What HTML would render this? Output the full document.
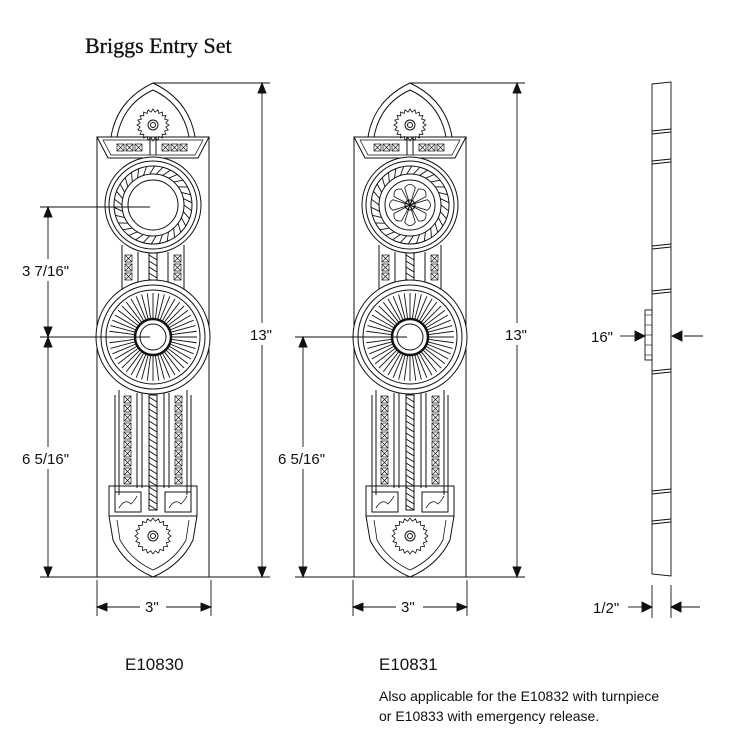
<!DOCTYPE html>
<html><head><meta charset="utf-8"><style>
html,body{margin:0;padding:0;background:#fff;width:735px;height:747px;overflow:hidden}
svg{position:absolute;left:0;top:0}
.t{font-family:"Liberation Sans",sans-serif;font-size:15px;fill:#111}
</style></head><body>
<svg id="s" width="735" height="747" viewBox="0 0 735 747" xmlns="http://www.w3.org/2000/svg" fill="none" stroke="#111" stroke-width="1">
<text x="85" y="53" style="font-family:'Liberation Serif',serif;font-size:22px;fill:#111" stroke="#111" stroke-width="0.3">Briggs Entry Set</text>
<g id="p1"></g><g id="p2"></g>
<g stroke-width="0.9">
<line x1="153" y1="83" x2="270" y2="83"/><line x1="40" y1="577" x2="270" y2="577"/>
<line x1="262" y1="90" x2="262" y2="570"/>
<polygon points="262,83 258,93 266,93" fill="#111"/><polygon points="262,577 258,567 266,567" fill="#111"/>
<line x1="40" y1="207" x2="150" y2="207"/><line x1="40" y1="337" x2="150" y2="337"/>
<line x1="48" y1="214" x2="48" y2="330"/><polygon points="48,207 44,217 52,217" fill="#111"/><polygon points="48,337 44,327 52,327" fill="#111"/>
<line x1="48" y1="344" x2="48" y2="570"/><polygon points="48,337 44,347 52,347" fill="#111"/><polygon points="48,577 44,567 52,567" fill="#111"/>
<line x1="97" y1="580" x2="97" y2="616"/><line x1="211" y1="580" x2="211" y2="616"/>
<line x1="104" y1="607" x2="140" y2="607"/><line x1="166" y1="607" x2="204" y2="607"/>
<polygon points="97,607 107,603 107,611" fill="#111"/><polygon points="211,607 201,603 201,611" fill="#111"/>
<line x1="410" y1="83" x2="525" y2="83"/><line x1="295" y1="577" x2="525" y2="577"/>
<line x1="517" y1="90" x2="517" y2="570"/>
<polygon points="517,83 513,93 521,93" fill="#111"/><polygon points="517,577 513,567 521,567" fill="#111"/>
<line x1="295" y1="337" x2="407" y2="337"/>
<line x1="303" y1="344" x2="303" y2="570"/><polygon points="303,337 299,347 307,347" fill="#111"/><polygon points="303,577 299,567 307,567" fill="#111"/>
<line x1="353" y1="580" x2="353" y2="616"/><line x1="467" y1="580" x2="467" y2="616"/>
<line x1="360" y1="607" x2="396" y2="607"/><line x1="423" y1="607" x2="460" y2="607"/>
<polygon points="353,607 363,603 363,611" fill="#111"/><polygon points="467,607 457,603 457,611" fill="#111"/>
<polygon points="652,84 671,82 671,576 652,574"/>
<g id="sl"></g>
<rect x="645" y="310" width="7" height="50" fill="#fff"/>
<g stroke-width="0.6"><line x1="645" y1="315" x2="652" y2="315"/><line x1="645" y1="325" x2="652" y2="325"/><line x1="645" y1="335" x2="652" y2="335"/><line x1="645" y1="345" x2="652" y2="345"/><line x1="645" y1="355" x2="652" y2="355"/></g>
<line x1="620" y1="336" x2="636" y2="336"/><polygon points="645,336 635,331 635,341" fill="#111"/>
<line x1="684" y1="336" x2="703" y2="336"/><polygon points="672,336 682,331 682,341" fill="#111"/>
<line x1="652" y1="585" x2="652" y2="618"/><line x1="671" y1="585" x2="671" y2="618"/>
<line x1="628" y1="607" x2="642" y2="607"/><polygon points="652,607 642,602 642,612" fill="#111"/>
<line x1="681" y1="607" x2="700" y2="607"/><polygon points="671,607 681,602 681,612" fill="#111"/>
</g>
<g stroke="none" fill="#fff">
<rect x="20" y="259" width="60" height="22"/><rect x="20" y="447" width="60" height="22"/>
<rect x="276" y="447" width="60" height="22"/><rect x="248" y="323" width="28" height="22"/><rect x="503" y="323" width="28" height="22"/>
</g>
<g stroke="none">
<text class="t" x="22" y="276">3 7/16"</text>
<text class="t" x="22" y="464">6 5/16"</text>
<text class="t" x="250" y="340">13"</text>
<text class="t" x="145" y="612">3"</text>
<text class="t" x="278" y="464">6 5/16"</text>
<text class="t" x="505" y="340">13"</text>
<text class="t" x="401" y="612">3"</text>
<text class="t" x="591" y="342">16"</text>
<text class="t" x="593" y="613">1/2"</text>
<text class="t" x="125" y="670" style="font-size:17px">E10830</text>
<text class="t" x="379" y="670" style="font-size:17px">E10831</text>
<text class="t" x="379" y="701" style="font-size:14px">Also applicable for the E10832 with turnpiece</text>
<text class="t" x="379" y="721" style="font-size:14px">or E10833 with emergency release.</text>
</g>
</svg>
<script>
var NS="http://www.w3.org/2000/svg";
function el(g,t,a){var e=document.createElementNS(NS,t);for(var k in a)e.setAttribute(k,a[k]);g.appendChild(e);return e;}
var sl=document.getElementById('sl');
[130,160,245,290,370,490,520].forEach(function(y){el(sl,'line',{x1:652,y1:y+1,x2:671,y2:y-1});el(sl,'line',{x1:652,y1:y+4,x2:671,y2:y+2});});
function xs(g,x,y,n,dir){for(var i=0;i<n;i++){var xx=dir?x+i*9:x,yy=dir?y:y+i*9;el(g,'rect',{x:xx,y:yy,width:7,height:7,'stroke-width':0.7});el(g,'path',{d:'M'+xx+','+yy+'l7,7M'+(xx+7)+','+yy+'l-7,7','stroke-width':0.7});}}
function gear(g,cx,cy,r){var d='';for(var i=0;i<20;i++){var a=i*Math.PI/10,b=a+Math.PI/20;d+=(i?'L':'M')+(cx+r*Math.cos(a))+','+(cy+r*Math.sin(a))+'L'+(cx+(r-3)*Math.cos(b))+','+(cy+(r-3)*Math.sin(b));}el(g,'path',{d:d+'Z','stroke-width':0.8});el(g,'circle',{cx:cx,cy:cy,r:5});el(g,'circle',{cx:cx,cy:cy,r:2.5});}
function rope(g,x,y1,y2){el(g,'rect',{x:x-4,y:y1,width:8,height:y2-y1});var d='';for(var y=y1+2;y<y2-4;y+=6)d+='M'+(x-4)+','+y+'l8,5';el(g,'path',{d:d,'stroke-width':0.9});}
function plate(id,cx,flower){var g=document.getElementById(id);
el(g,'rect',{x:cx-56,y:137,width:112,height:440});
el(g,'path',{d:'M'+(cx-42)+',137Q'+(cx-36)+',100 '+cx+',83Q'+(cx+36)+',100 '+(cx+42)+',137'});
el(g,'path',{d:'M'+(cx-36)+',137Q'+(cx-30)+',104 '+cx+',90Q'+(cx+30)+',104 '+(cx+36)+',137'});
el(g,'path',{d:'M'+(cx-56)+',137L'+(cx+56)+',137L'+(cx+45)+',158L'+(cx-45)+',158Z'});
el(g,'path',{d:'M'+(cx-50)+',140L'+(cx+50)+',140L'+(cx+42)+',155L'+(cx-42)+',155Z','stroke-width':0.7});
xs(g,cx-36,144,3,1);xs(g,cx+9,144,3,1);el(g,'line',{x1:cx-3,y1:137,x2:cx-3,y2:155});el(g,'line',{x1:cx+3,y1:137,x2:cx+3,y2:155});
gear(g,cx,125,16);
[[-31,245,295],[31,245,295],[-34,390,495],[34,390,495],[-38,395,495],[38,395,495]].forEach(function(a){el(g,'line',{x1:cx+a[0],y1:a[1],x2:cx+a[0],y2:a[2]});});
[48,44,39,31,25].forEach(function(r){el(g,'circle',{cx:cx,cy:205,r:r,fill:r==48?'#fff':'none'});});
var d='';for(var i=0;i<30;i++){var a=i*Math.PI/15;d+='M'+(cx+31*Math.cos(a))+','+(205+31*Math.sin(a))+'L'+(cx+39*Math.cos(a+0.15))+','+(205+39*Math.sin(a+0.15));}el(g,'path',{d:d,'stroke-width':0.9});
if(flower){var f='';for(var i=0;i<8;i++){var a=i*Math.PI/4;f+='M'+cx+',205L'+(cx+18*Math.cos(a-0.3))+','+(205+18*Math.sin(a-0.3))+'Q'+(cx+24*Math.cos(a))+','+(205+24*Math.sin(a))+' '+(cx+18*Math.cos(a+0.3))+','+(205+18*Math.sin(a+0.3))+'Z';}el(g,'path',{d:f,'stroke-width':0.8});el(g,'circle',{cx:cx,cy:205,r:5});}
xs(g,cx-28,255,3,0);xs(g,cx+21,255,3,0);rope(g,cx,253,285);el(g,'line',{x1:cx-15,y1:252,x2:cx-15,y2:287});el(g,'line',{x1:cx+15,y1:252,x2:cx+15,y2:287});
[57,52,47].forEach(function(r){el(g,'circle',{cx:cx,cy:337,r:r,fill:r==57?'#fff':'none'});});
d='';for(var i=0;i<48;i++){var a=i*Math.PI/24;d+='M'+(cx+19*Math.cos(a))+','+(337+19*Math.sin(a))+'L'+(cx+44*Math.cos(a))+','+(337+44*Math.sin(a));}el(g,'path',{d:d,'stroke-width':0.9});
el(g,'circle',{cx:cx,cy:337,r:18,fill:'#fff','stroke-width':2.5});el(g,'circle',{cx:cx,cy:337,r:13,fill:'#fff'});
xs(g,cx-29,396,10,0);xs(g,cx+22,396,10,0);rope(g,cx,395,510);
el(g,'line',{x1:cx-16,y1:393,x2:cx-16,y2:488});el(g,'line',{x1:cx+16,y1:393,x2:cx+16,y2:488});el(g,'line',{x1:cx-11,y1:393,x2:cx-11,y2:488});el(g,'line',{x1:cx+11,y1:393,x2:cx+11,y2:488});
el(g,'rect',{x:cx-44,y:486,width:88,height:30});
el(g,'rect',{x:cx-38,y:492,width:26,height:20});el(g,'rect',{x:cx+12,y:492,width:26,height:20});
el(g,'path',{d:'M'+(cx-34)+',508q6,-10 12,-4q4,-4 6,-8M'+(cx+16)+',508q6,-10 12,-4q4,-4 6,-8','stroke-width':0.8});
el(g,'path',{d:'M'+(cx-44)+',516L'+(cx-40)+',540Q'+(cx-28)+',565 '+cx+',577Q'+(cx+28)+',565 '+(cx+40)+',540L'+(cx+44)+',516'});
el(g,'path',{d:'M'+(cx-36)+',520L'+(cx-33)+',540Q'+(cx-22)+',560 '+cx+',570Q'+(cx+22)+',560 '+(cx+33)+',540L'+(cx+36)+',520','stroke-width':0.8});
gear(g,cx,536,18);
}
plate('p1',153,false);plate('p2',410,true);
</script>
</body></html>
